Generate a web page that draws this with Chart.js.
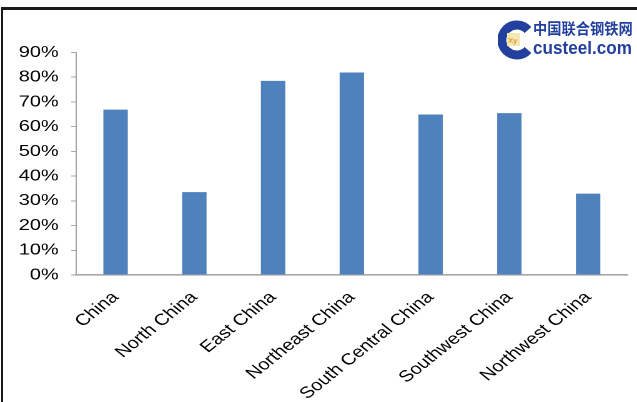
<!DOCTYPE html>
<html>
<head>
<meta charset="utf-8">
<script src="https://cdn.jsdelivr.net/npm/chart.js@4"></script>
<style>
  html, body { margin: 0; padding: 0; background: #fff; }
  body { width: 637px; height: 402px; position: relative; overflow: hidden; font-family: "Liberation Sans", Arial, sans-serif; }
  #frame { position: absolute; left: 1px; top: 7px; width: 640px; height: 400px; border-top: 3px solid #1a1a1a; border-left: 2px solid #1a1a1a; }
  /* the source chart was stretched sideways, so draw narrow and widen */
  #wrap { position: absolute; left: 0; top: 0; width: 510px; height: 402px; transform: scaleX(1.249); transform-origin: 0 0; }
  #logo { position: absolute; left: 498px; top: 19px; width: 140px; height: 44px; }
  #logo .cn { position: absolute; left: 35px; top: 0px; font-family: "Noto Sans CJK SC", sans-serif; font-weight: 700; font-size: 15px; color: #23409f; line-height: 18px; transform: scaleX(0.95); transform-origin: 0 0; white-space: nowrap; }
  #logo .en { position: absolute; left: 35px; top: 18px; font-family: "Liberation Sans", Arial, sans-serif; font-weight: 700; font-size: 19px; color: #23409f; line-height: 22px; transform: scaleX(0.9); transform-origin: 0 0; white-space: nowrap; }
</style>
</head>
<body>
<div id="frame"></div>
<div id="wrap"><canvas id="chart"></canvas></div>
<div id="logo">
  <svg width="34" height="42" viewBox="0 0 34 42">
    <path d="M30 11 A15 15 0 1 0 30 31" fill="none" stroke="#23409f" stroke-width="9"/>
    <rect x="9" y="14" width="13" height="13" fill="#f4e8b0"/>
    <text x="10" y="24" font-size="8" font-family="Liberation Sans" fill="#d98a1a">Xy</text>
  </svg>
  <div class="cn">中国联合钢铁网</div>
  <div class="en">custeel.com</div>
</div>
<script>
// DATA
const regions = ['China', 'North China', 'East China', 'Northeast China', 'South Central China', 'Southwest China', 'Northwest China'];
const shares = [66.9, 33.5, 78.5, 81.9, 64.9, 65.5, 32.9];
const yTicks = [0, 10, 20, 30, 40, 50, 60, 70, 80, 90];

const BAR_BLUE = '#4f81bd';
const AXIS_GREY = '#a6a6a6';

const ctx = document.getElementById('chart').getContext('2d');
new Chart(ctx, {
    type: 'bar',
    data: {
        labels: regions,
        datasets: [{ data: shares, backgroundColor: BAR_BLUE, borderWidth: 0, barPercentage: 0.31, categoryPercentage: 1 }]
    },
    options: {
        responsive: true,
        maintainAspectRatio: false,
        animation: false,
        devicePixelRatio: 2,
        layout: { padding: { top: 52.5, right: 7.6, bottom: 0, left: 0 } },
        plugins: { legend: { display: false }, tooltip: { enabled: false } },
        scales: {
            x: {
                border: { display: true, color: AXIS_GREY, width: 1.6 },
                grid: { drawOnChartArea: false, drawTicks: false },
                ticks: {
                    autoSkip: false, minRotation: 45, maxRotation: 45, padding: 13,
                    color: '#000', font: { family: 'Liberation Sans', size: 16 }
                },
                afterFit: (s) => { s.height = 127; }
            },
            y: {
                min: 0, max: 90,
                afterBuildTicks: (s) => { s.ticks = yTicks.map(v => ({ value: v })); },
                border: { display: true, color: AXIS_GREY, width: 1 },
                grid: { drawOnChartArea: false, drawTicks: true, tickLength: 4, color: AXIS_GREY },
                ticks: {
                    padding: 10, color: '#000', font: { family: 'Liberation Sans', size: 16 },
                    callback: (v) => v + '%'
                },
                afterFit: (s) => { s.width = 61; }
            }
        }
    }
});
</script>
</body>
</html>
